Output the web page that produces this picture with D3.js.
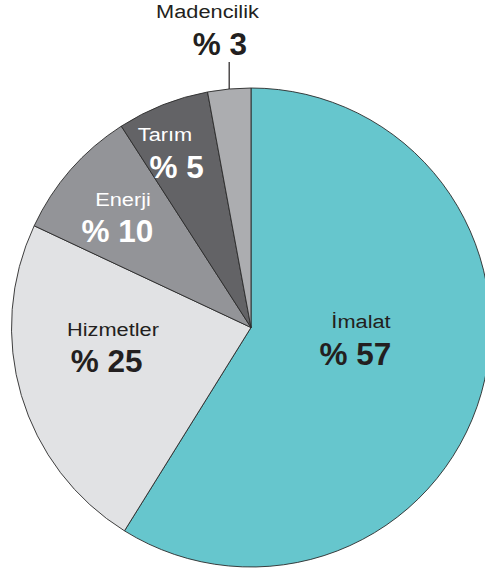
<!DOCTYPE html>
<html>
<head>
<meta charset="utf-8">
<script src="https://cdn.jsdelivr.net/npm/d3@7"></script>
<style>
  html, body { margin: 0; padding: 0; background: #fff; }
  svg { display: block; }
</style>
</head>
<body>
<svg id="chart" width="485" height="572"></svg>
<script>
// ---- data ----
const categories = ["İmalat", "Hizmetler", "Enerji", "Tarım", "Madencilik"];
const percentLabels = [57, 25, 10, 5, 3];            // printed values
const sliceShares = [58.8, 23.1, 8.9, 6.2, 2.9];     // slice sizes as drawn in the picture
const colors = ["#66c6cd", "#e1e2e4", "#939498", "#636366", "#acadb0"];
const textColors = ["#231f20", "#231f20", "#ffffff", "#ffffff", "#231f20"];

// ---- layout (label offsets from pie centre: name line and value line) ----
const labelLayout = [
  { nx: 110,  ny: 0.8,    vx: 104.5, vy: 37.5 },
  { nx: -138, ny: 8.5,    vx: -144.3, vy: 44.2 },
  { nx: -128, ny: -121.8, vx: -133.5, vy: -85.8 },
  { nx: -86,  ny: -186.5, vx: -74.3, vy: -149.2 },
  { nx: -43.5, ny: -309.2, vx: -31,  vy: -272.5 }
];

const cx = 251, cy = 327.5, R = 239.5;
const svg = d3.select("#chart");
const g = svg.append("g").attr("transform", `translate(${cx},${cy})`);

const data = categories.map((c, i) => ({ name: c, share: sliceShares[i], pct: percentLabels[i], i }));
const pie = d3.pie().sort(null).value(d => d.share).startAngle(0).endAngle(2 * Math.PI);
const arc = d3.arc().innerRadius(0).outerRadius(R);
const arcs = pie(data);

g.selectAll("path.slice")
  .data(arcs)
  .join("path")
  .attr("class", "slice")
  .attr("d", arc)
  .attr("fill", d => colors[d.data.i])
  .attr("stroke", "#2a2a2a")
  .attr("stroke-width", 0.9)
  .attr("stroke-linejoin", "round");

// leader line for the small slice (Madencilik)
const small = arcs[4];
const midA = (small.startAngle + small.endAngle) / 2;
const lx = R * Math.sin(midA);
const ly0 = -R * Math.cos(midA);
g.append("line")
  .attr("x1", lx).attr("x2", lx)
  .attr("y1", ly0).attr("y2", labelLayout[4].vy + 7)
  .attr("stroke", "#231f20")
  .attr("stroke-width", 1.2);

const labels = g.selectAll("g.lbl").data(arcs).join("g").attr("class", "lbl");
labels.append("text")
  .attr("transform", d => `translate(${labelLayout[d.data.i].nx},${labelLayout[d.data.i].ny}) scale(1.21,1)`)
  .attr("text-anchor", "middle")
  .attr("font-family", "'Liberation Sans', Arial, Helvetica, sans-serif")
  .attr("font-size", 18)
  .attr("fill", d => textColors[d.data.i])
  .text(d => d.data.name);

labels.append("text")
  .attr("x", d => labelLayout[d.data.i].vx)
  .attr("y", d => labelLayout[d.data.i].vy)
  .attr("text-anchor", "middle")
  .attr("font-family", "'Liberation Sans', Arial, Helvetica, sans-serif")
  .attr("font-weight", "bold")
  .attr("font-size", 31.5)
  .attr("fill", d => textColors[d.data.i])
  .text(d => "% " + d.data.pct);
</script>
</body>
</html>
